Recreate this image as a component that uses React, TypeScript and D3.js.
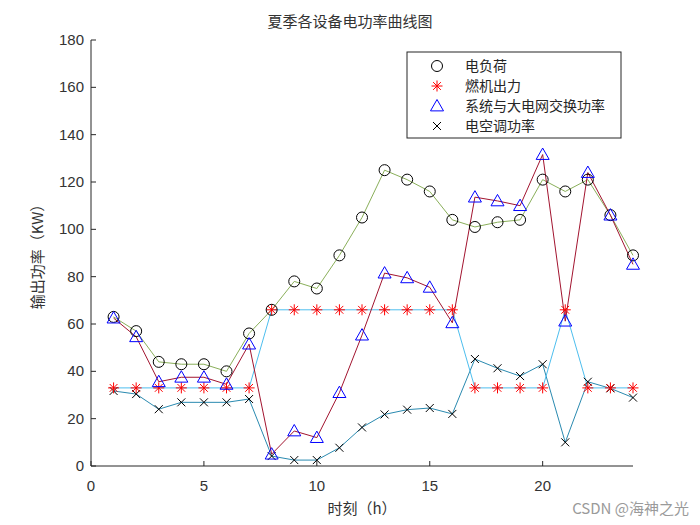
import React from "react";
import * as d3 from "d3";

const hours = d3.range(1, 25);
const loadSeries = [63, 57, 44, 43, 43, 40, 56, 66, 78, 75, 89, 105, 125, 121, 116, 104, 101, 103, 104, 121, 116, 121, 106, 89];
const gasSeries = [33, 33, 33, 33, 33, 33, 33, 66, 66, 66, 66, 66, 66, 66, 66, 66, 33, 33, 33, 33, 66, 33, 33, 33];
const gridSeries = [62.5, 54.6, 35.6, 37.5, 37.5, 34.5, 51.5, 5, 14.8, 12, 31, 55.3, 81.5, 79.5, 75.5, 60.5, 113.6, 112, 110, 131.6, 61.2, 124, 106, 85.2];
const acSeries = [31.7, 30.4, 24, 26.9, 26.9, 26.9, 28.3, 4.2, 2.5, 2.5, 7.7, 16.3, 21.8, 23.8, 24.5, 22, 45.2, 41.3, 38, 43, 10, 35.6, 32.8, 28.9];
const xTicks = [0, 5, 10, 15, 20];
const yTicks = [0, 20, 40, 60, 80, 100, 120, 140, 160, 180];
const legendLabels = ["电负荷", "燃机出力", "系统与大电网交换功率", "电空调功率"];

const W = 700, H = 525;
const x = d3.scaleLinear().domain([0, 24]).range([91, 633]);
const y = d3.scaleLinear().domain([0, 180]).range([466, 40]);
const cjk = "'Noto Sans CJK SC', sans-serif";
const latin = "'Liberation Sans', Arial, sans-serif";

type Marker = "circle" | "star" | "tri" | "x";

function MarkerShape({ kind, cx, cy }: { kind: Marker; cx: number; cy: number }) {
  if (kind === "circle") return <circle cx={cx} cy={cy} r={5.5} fill="none" stroke="#000" strokeWidth={1} />;
  if (kind === "tri") {
    const s = 6.5;
    return <path d={`M${cx},${cy - s}L${cx + s},${cy + s * 0.75}L${cx - s},${cy + s * 0.75}Z`} fill="none" stroke="#0000ff" strokeWidth={1} />;
  }
  if (kind === "star") {
    const s = 5.5;
    const d = [0, 45, 90, 135].map((a) => {
      const r = (a * Math.PI) / 180;
      return `M${cx - s * Math.cos(r)},${cy - s * Math.sin(r)}L${cx + s * Math.cos(r)},${cy + s * Math.sin(r)}`;
    }).join("");
    return <path d={d} stroke="#ff0000" strokeWidth={1} fill="none" />;
  }
  const s = 4;
  return <path d={`M${cx - s},${cy - s}L${cx + s},${cy + s}M${cx - s},${cy + s}L${cx + s},${cy - s}`} stroke="#000" strokeWidth={1} />;
}

const series: { vals: number[]; color: string; marker: Marker }[] = [
  { vals: acSeries, color: "#2a8ab0", marker: "x" },
  { vals: gasSeries, color: "#4dbeee", marker: "star" },
  { vals: loadSeries, color: "#8aaf5a", marker: "circle" },
  { vals: gridSeries, color: "#a2142f", marker: "tri" },
];

export default function App() {
  const line = d3.line<number>().x((_, i) => x(hours[i])).y((v) => y(v));
  const legendMarkers: Marker[] = ["circle", "star", "tri", "x"];
  return (
    <svg width={W} height={H} style={{ position: "absolute", left: 0, top: 0, background: "#fff" }}>
      <rect width={W} height={H} fill="#fff" />
      {/* axes */}
      <line x1={x(0)} x2={x(24)} y1={y(0)} y2={y(0)} stroke="#262626" strokeWidth={1} />
      <line x1={x(0)} x2={x(0)} y1={y(0)} y2={y(180)} stroke="#262626" strokeWidth={1} />
      {xTicks.map((t) => (
        <g key={"xt" + t}>
          <line x1={x(t)} x2={x(t)} y1={y(0)} y2={y(0) - 5} stroke="#262626" />
          <text x={x(t)} y={y(0) + 25} textAnchor="middle" fontFamily={latin} fontSize={15} fill="#333">{t}</text>
        </g>
      ))}
      {yTicks.map((t) => (
        <g key={"yt" + t}>
          <line x1={x(0)} x2={x(0) + 5} y1={y(t)} y2={y(t)} stroke="#262626" />
          <text x={x(0) - 7} y={y(t) + 5} textAnchor="end" fontFamily={latin} fontSize={15} fill="#333">{t}</text>
        </g>
      ))}
      {/* lines */}
      {series.map((s, i) => (
        <path key={"l" + i} d={line(s.vals) || ""} fill="none" stroke={s.color} strokeWidth={1} />
      ))}
      {series.map((s, i) => (
        <g key={"m" + i}>
          {s.vals.map((v, j) => (
            <MarkerShape key={j} kind={s.marker} cx={x(hours[j])} cy={y(v)} />
          ))}
        </g>
      ))}
      {/* title & labels */}
      <text x={350} y={27} textAnchor="middle" fontFamily={cjk} fontSize={15} fill="#333">夏季各设备电功率曲线图</text>
      <text x={362} y={514} textAnchor="middle" fontFamily={cjk} fontSize={15} fill="#333">时刻（h）</text>
      <text transform={`translate(43,253) rotate(-90)`} textAnchor="middle" fontFamily={cjk} fontSize={15} fill="#333">输出功率（KW）</text>
      {/* legend */}
      <rect x={407} y={52} width={214} height={86} fill="#fff" stroke="#262626" strokeWidth={1} />
      {legendLabels.map((lab, i) => (
        <g key={"lg" + i}>
          <MarkerShape kind={legendMarkers[i]} cx={437} cy={66 + i * 20} />
          <text x={465} y={71 + i * 20} fontFamily={cjk} fontSize={14} fill="#262626">{lab}</text>
        </g>
      ))}
      {/* watermark */}
      <text x={689} y={514} textAnchor="end" fontFamily={cjk} fontSize={15} fill="#9a9a9a">CSDN @海神之光</text>
    </svg>
  );
}
